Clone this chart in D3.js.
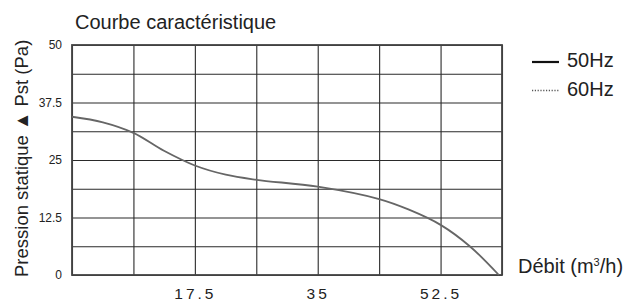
<!DOCTYPE html>
<html>
<head>
<meta charset="utf-8">
<script src="https://cdn.jsdelivr.net/npm/d3@7"></script>
<style>
  body { margin: 0; background: #fff; }
  text { font-family: "Liberation Sans", Arial, sans-serif; fill: #222; }
</style>
</head>
<body>
<svg id="chart"></svg>
<script>
// flow (m3/h) and static pressure (Pa)
let flow     = [0, 4.4, 8.75, 13.1, 17.5, 21.9, 26.25, 35, 43.75, 48, 52.5, 56.7, 60.8];
let pressure = [34.4, 33.2, 30.9, 27.0, 23.8, 21.8, 20.7, 19.2, 16.5, 14.2, 10.9, 6.2, 0];

let xGrid = [0, 8.75, 17.5, 26.25, 35, 43.75, 52.5, 61.25];
let yGrid = [0, 6.25, 12.5, 18.75, 25, 31.25, 37.5, 43.75, 50];
let xTickLabels = ["17.5", "35", "52.5"];
let yTickLabels = ["0", "12.5", "25", "37.5", "50"];
let legendNames = ["50Hz", "60Hz"];

let width = 625, height = 302;
let margin = {top: 45, right: 123, bottom: 27, left: 72};
let plotW = width - margin.left - margin.right;
let plotH = height - margin.top - margin.bottom;

let svg = d3.select("#chart")
    .attr("width", width)
    .attr("height", height);

let g = svg.append("g")
    .attr("transform", "translate(" + margin.left + "," + margin.top + ")");

let x = d3.scaleLinear().domain([0, 61.25]).range([0, plotW]);
let y = d3.scaleLinear().domain([0, 50]).range([plotH, 0]);

// grid lines
g.append("g")
    .attr("transform", "translate(0," + plotH + ")")
    .call(d3.axisBottom(x).tickValues(xGrid).tickSize(-plotH).tickFormat(""))
    .call(a => a.select(".domain").remove())
    .selectAll("line").attr("stroke", "#2a2a2a").attr("stroke-width", 1.1);

g.append("g")
    .call(d3.axisLeft(y).tickValues(yGrid).tickSize(-plotW).tickFormat(""))
    .call(a => a.select(".domain").remove())
    .selectAll("line").attr("stroke", "#2a2a2a").attr("stroke-width", 1.1);

// frame
g.append("rect")
    .attr("width", plotW)
    .attr("height", plotH)
    .attr("fill", "none")
    .attr("stroke", "#444")
    .attr("stroke-width", 1.8);

// tick labels
let yAxis = g.append("g")
    .call(d3.axisLeft(y).tickValues(yTickLabels.map(Number)).tickSize(0).tickPadding(10)
        .tickFormat((d, i) => yTickLabels[i]));
yAxis.select(".domain").remove();
yAxis.selectAll("text")
    .attr("font-size", 12)
    .attr("font-family", "Liberation Sans, Arial, sans-serif")
    .attr("fill", "#222");

let xAxis = g.append("g")
    .attr("transform", "translate(0," + plotH + ")")
    .call(d3.axisBottom(x).tickValues(xTickLabels.map(Number)).tickSize(0).tickPadding(12.5)
        .tickFormat((d, i) => xTickLabels[i]));
xAxis.select(".domain").remove();
xAxis.selectAll("text")
    .attr("font-size", 15.5)
    .attr("letter-spacing", 3)
    .attr("font-family", "Liberation Sans, Arial, sans-serif")
    .attr("fill", "#222");

// 50Hz curve
let line = d3.line()
    .x((d, i) => x(flow[i]))
    .y(d => y(d))
    .curve(d3.curveCatmullRom.alpha(0.5));

g.append("path")
    .datum(pressure)
    .attr("d", line)
    .attr("fill", "none")
    .attr("stroke", "#666")
    .attr("stroke-width", 1.8);

// titles
svg.append("text")
    .attr("x", 75)
    .attr("y", 29)
    .attr("font-size", 20)
    .text("Courbe caractéristique");

svg.append("text")
    .attr("transform", "translate(28,277) rotate(-90)")
    .attr("font-size", 18.5)
    .text("Pression statique ▲ Pst (Pa)");

let xt = svg.append("text")
    .attr("x", 518)
    .attr("y", 273)
    .attr("font-size", 20)
    .text("Débit (m");
xt.append("tspan").attr("font-size", 11).attr("dy", -7).text("3");
xt.append("tspan").attr("dy", 7).text("/h)");

// legend
let legend = svg.append("g").attr("transform", "translate(532,62)");
legendNames.forEach((name, i) => {
    let row = legend.append("g").attr("transform", "translate(0," + i * 28.5 + ")");
    row.append("line")
        .attr("x1", 0).attr("x2", 27)
        .attr("stroke", i === 0 ? "#111" : "#555")
        .attr("stroke-width", i === 0 ? 2.2 : 1.5)
        .attr("stroke-dasharray", i === 0 ? null : "1.2,1.6");
    row.append("text")
        .attr("x", 35)
        .attr("y", 5)
        .attr("font-size", 20)
        .text(name);
});
</script>
</body>
</html>
